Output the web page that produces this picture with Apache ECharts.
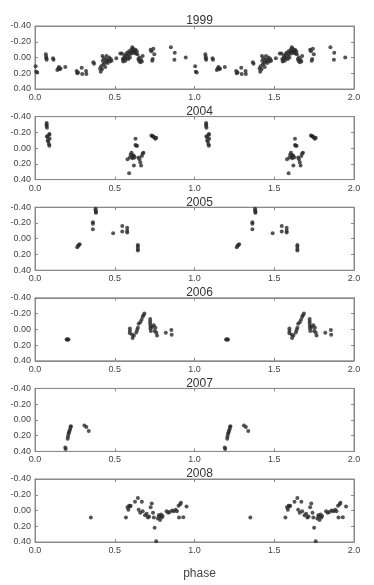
<!DOCTYPE html>
<html>
<head>
<meta charset="utf-8">
<script src="https://cdn.jsdelivr.net/npm/echarts@6/dist/echarts.min.js"></script>
<style>html,body{margin:0;padding:0;background:#fff}#c{width:374px;height:585px}</style>
</head>
<body>
<div id="c"></div>
<script>
const years = ['1999','2004','2005','2006','2007','2008'];
const xTicks = ['0.0','0.5','1.0','1.5','2.0'];
const yTicks = ['-0.40','-0.20','0.00','0.20','0.40'];

const d1999 = [
[0.004,0.11],[0.008,0.18],[0.014,0.19],
[0.068,-0.04],[0.070,-0.01],[0.071,0.01],[0.073,0.03],
[0.113,0.01],[0.116,0.03],
[0.140,0.16],[0.146,0.14],[0.150,0.12],[0.155,0.15],[0.160,0.14],
[0.190,0.12],
[0.261,0.17],[0.265,0.20],[0.270,0.19],[0.293,0.13],[0.296,0.21],[0.320,0.17],[0.322,0.21],
[0.366,0.06],[0.370,0.08],
[0.408,0.14],[0.412,0.18],[0.415,0.11],[0.420,0.15],[0.423,-0.02],[0.425,0.04],[0.428,0.09],[0.432,0.01],[0.436,0.07],[0.440,0.12],[0.445,0.03],[0.448,-0.02],[0.450,0.05],[0.455,0.07],[0.460,0.03],[0.465,0.0],[0.470,0.05],[0.475,0.02],[0.480,0.04],
[0.510,0.01],
[0.535,-0.05],[0.545,-0.05],[0.550,0.02],[0.553,0.05],[0.556,0.03],[0.560,-0.02],[0.563,0.0],[0.566,0.04],[0.570,-0.04],[0.575,0.01],[0.578,-0.06],[0.582,-0.02],[0.585,0.02],[0.590,-0.08],[0.592,-0.04],[0.595,0.0],[0.600,-0.07],[0.603,-0.10],[0.606,-0.05],[0.610,-0.13],[0.612,-0.08],[0.615,-0.11],[0.620,-0.06],[0.623,-0.09],[0.627,-0.07],[0.630,-0.10],[0.633,-0.05],[0.638,-0.08],[0.642,-0.04],[0.648,0.02],[0.652,0.04],[0.655,0.0],[0.660,0.06],[0.665,0.03],[0.670,0.05],[0.675,-0.02],
[0.725,-0.10],[0.730,-0.08],[0.735,0.04],[0.738,0.02],[0.742,-0.11],[0.748,-0.04],
[0.852,-0.13],[0.876,-0.06],[0.874,0.03],
[0.945,0.0]
];
const d2004 = [
[0.073,-0.32],[0.073,-0.30],[0.073,-0.28],[0.075,-0.26],[0.075,-0.15],[0.078,-0.14],[0.080,-0.10],[0.083,-0.08],[0.090,-0.17],[0.090,-0.18],[0.092,-0.12],[0.088,-0.05],[0.090,-0.03],
[0.580,0.14],[0.590,0.32],[0.595,0.12],[0.600,0.08],[0.605,0.06],[0.610,0.11],[0.612,0.13],[0.615,0.09],[0.620,0.10],[0.620,0.22],[0.625,0.12],[0.630,-0.12],[0.630,-0.04],[0.635,-0.03],[0.640,-0.03],[0.650,0.12],[0.655,0.14],[0.660,0.18],[0.665,0.22],[0.670,0.10],[0.675,0.07],[0.680,0.06],
[0.730,-0.16],[0.735,-0.155],[0.740,-0.15],[0.745,-0.14],[0.750,-0.13],[0.755,-0.12],[0.760,-0.13]
];
const d2005 = [
[0.265,0.11],[0.270,0.09],[0.275,0.08],[0.280,0.07],
[0.363,-0.21],[0.363,-0.19],[0.363,-0.12],
[0.380,-0.38],[0.380,-0.36],[0.382,-0.34],[0.382,-0.33],
[0.490,-0.07],
[0.547,-0.16],[0.547,-0.09],
[0.578,-0.14],[0.578,-0.10],[0.578,-0.08],
[0.645,0.08],[0.645,0.10],[0.645,0.13],[0.645,0.15]
];
const d2006 = [
[0.198,0.13],[0.202,0.13],[0.206,0.13],[0.210,0.13],
[0.595,-0.01],[0.595,0.02],[0.595,0.05],[0.610,0.07],[0.612,0.11],[0.620,0.08],
[0.635,0.04],[0.640,0.01],[0.645,-0.02],[0.650,-0.07],
[0.660,-0.09],[0.668,-0.12],[0.675,-0.16],[0.680,-0.18],[0.686,-0.20],
[0.722,-0.13],[0.722,-0.10],[0.722,-0.07],[0.724,-0.04],[0.724,-0.01],[0.726,0.02],
[0.735,-0.03],[0.745,-0.05],[0.755,-0.02],[0.750,0.02],[0.760,0.04],[0.765,0.08],
[0.820,0.045],[0.855,0.01],[0.857,0.07]
];
const d2007 = [
[0.190,0.35],[0.192,0.37],
[0.205,0.24],[0.207,0.21],[0.210,0.18],[0.213,0.16],[0.216,0.14],[0.220,0.12],[0.223,0.09],[0.225,0.08],
[0.310,0.07],[0.322,0.09],[0.337,0.14]
];
const d2008 = [
[0.350,0.09],
[0.570,0.09],[0.580,-0.04],[0.585,-0.01],[0.590,-0.06],[0.595,-0.05],[0.600,-0.06],
[0.627,-0.11],[0.645,-0.16],[0.650,-0.01],[0.660,0.03],[0.670,-0.11],[0.675,0.01],
[0.690,0.06],[0.700,0.04],[0.708,0.09],[0.715,0.075],[0.725,-0.04],[0.732,-0.09],[0.740,0.03],[0.745,0.09],[0.750,0.22],[0.760,0.39],
[0.770,0.10],[0.776,0.06],[0.780,0.075],[0.784,0.12],[0.790,0.05],[0.795,0.09],[0.800,0.07],
[0.825,0.01],[0.835,0.03],[0.845,0.02],[0.860,0.0],[0.870,0.01],[0.882,-0.01],[0.890,0.01],
[0.900,-0.06],[0.903,0.09],[0.910,-0.08],[0.915,-0.10],[0.930,0.085],[0.950,-0.05]
];
const panels = [d1999, d2004, d2005, d2006, d2007, d2008];

const LEFT = 35, RIGHT = 20, TOP0 = 26, STEP = 90.6, H = 63;
const FONT = 'Liberation Sans, Arial, Helvetica, sans-serif';
const AXC = '#8a8a8a';

const grid = [], xAxis = [], yAxis = [], series = [], title = [];
panels.forEach((d, i) => {
  const top = TOP0 + i * STEP;
  grid.push({left: LEFT, right: RIGHT, top: top, height: H, show: true, borderColor: AXC, borderWidth: 1, backgroundColor: 'transparent'});
  title.push({text: years[i], left: (LEFT + 374 - RIGHT) / 2, textAlign: 'center', top: top - 16,
    textStyle: {fontSize: 12, fontWeight: 'normal', color: '#333', fontFamily: FONT}});
  const xa = (pos, lab) => ({gridIndex: i, type: 'value', position: pos, min: 0, max: 2, interval: 0.5,
    axisLine: {show: true, onZero: false, lineStyle: {color: AXC, width: 1}}, splitLine: {show: false},
    axisTick: {show: true, inside: true, length: 3, lineStyle: {color: AXC}},
    axisLabel: {show: lab, margin: 4, fontSize: 9, color: '#444', fontFamily: FONT,
      formatter: v => xTicks[Math.round(v / 0.5)]}});
  const ya = (pos, lab) => ({gridIndex: i, type: 'value', position: pos, inverse: true, min: -0.4, max: 0.4, interval: 0.2,
    axisLine: {show: true, onZero: false, lineStyle: {color: AXC, width: 1}}, splitLine: {show: false},
    axisTick: {show: true, inside: true, length: 3, lineStyle: {color: AXC}},
    axisLabel: {show: lab, margin: 4, fontSize: 9, color: '#444', fontFamily: FONT,
      formatter: v => yTicks[Math.round((v + 0.4) / 0.2)]}});
  xAxis.push(xa('bottom', true)); xAxis.push(xa('top', false));
  yAxis.push(ya('left', true)); yAxis.push(ya('right', false));
  const pts = d.concat(d.map(p => [p[0] + 1, p[1]]));
  series.push({type: 'scatter', xAxisIndex: 2 * i, yAxisIndex: 2 * i, data: pts,
    symbol: 'circle', symbolSize: 4, itemStyle: {color: '#2b2b2b'}, silent: true, animation: false});
});
title.push({text: 'phase', left: (LEFT + 374 - RIGHT) / 2, textAlign: 'center', top: 563,
  textStyle: {fontSize: 12, fontWeight: 'normal', color: '#444', fontFamily: FONT}});

const chart = echarts.init(document.getElementById('c'), null, {renderer: 'canvas'});
chart.setOption({animation: false, backgroundColor: '#fff', title, grid, xAxis, yAxis, series});
</script>
</body>
</html>
